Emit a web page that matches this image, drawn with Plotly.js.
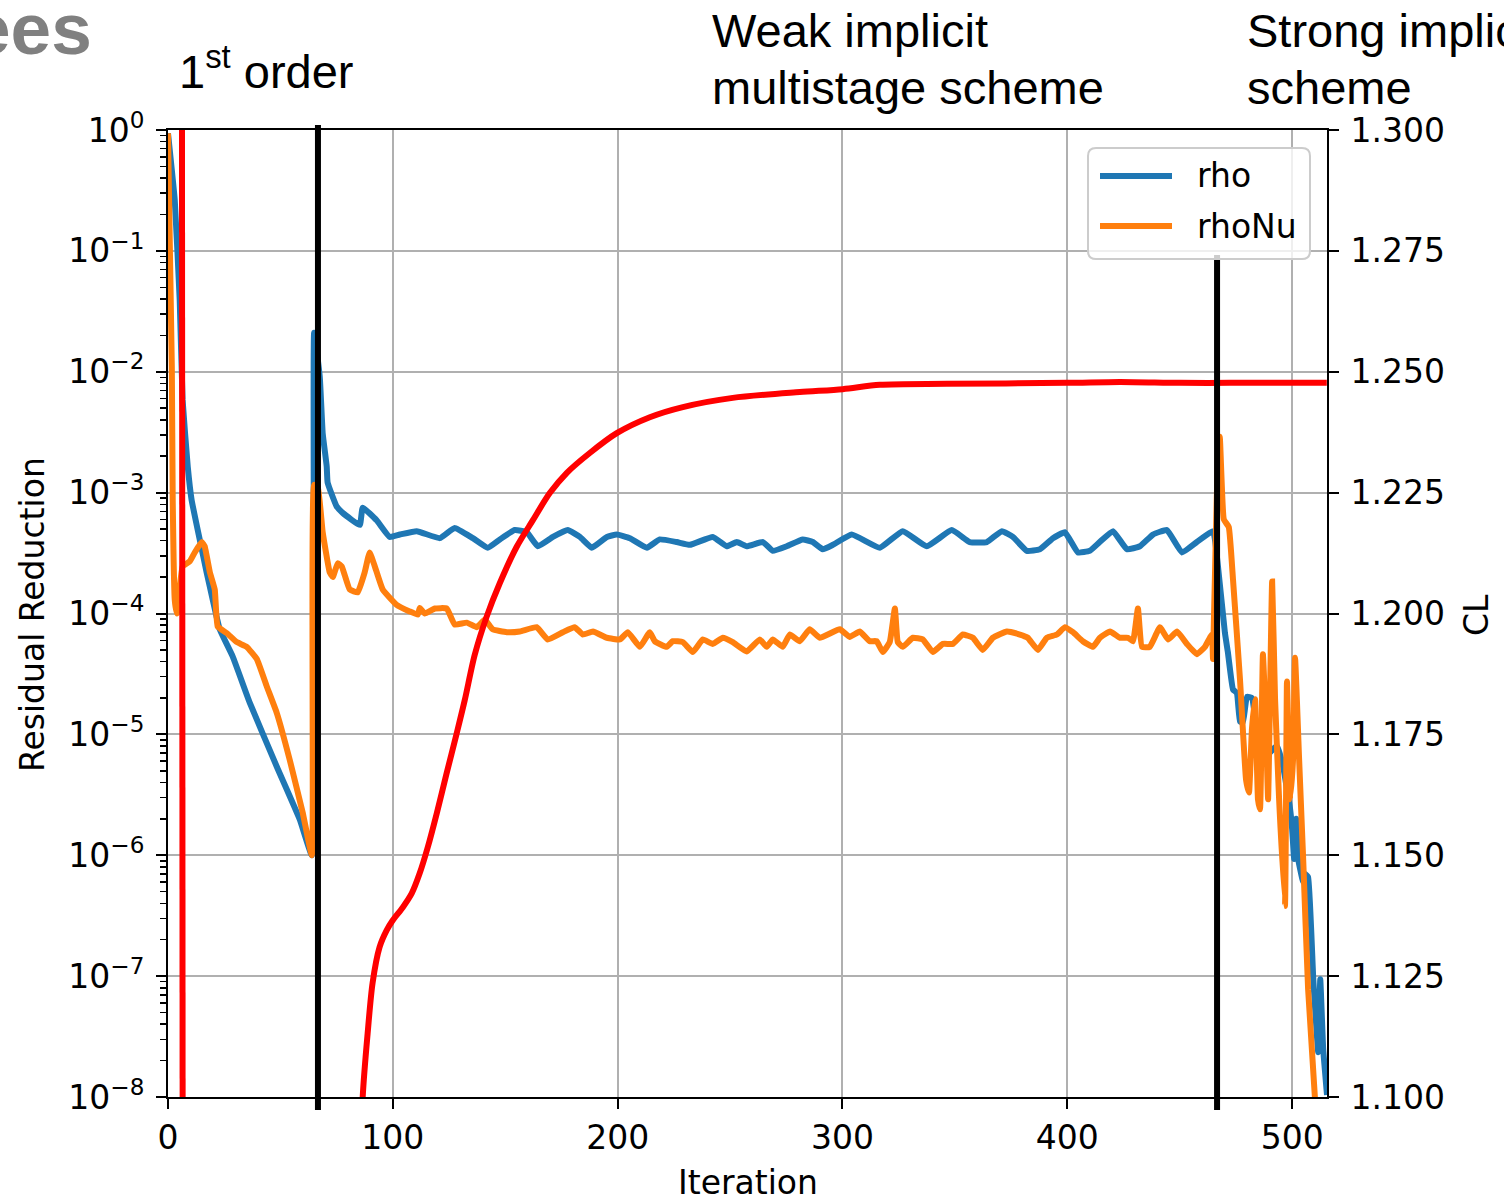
<!DOCTYPE html>
<html>
<head>
<meta charset="utf-8">
<script src="https://cdn.plot.ly/plotly-3.0.1.min.js"></script>
<style>html,body{margin:0;padding:0;background:#fff;}#chart{width:1504px;height:1199px;}</style>
</head>
<body>
<div id="chart"></div>
<script>
// ---------- data ----------
const iterRho = [0,3.0,5.2,6.5,8.8,10.5,14.1,17.2,19.9,23.0,28.8,36.3,48.4,58.6,64.0,65.0,67.5,68.8,70.6,71.0,75.0,77.7,85.3,86.6,92.8,98.6,103.1,110.6,120.9,127.5,135.6,142.2,147.6,154.2,159.6,164.5,171.2,177.8,183.2,188.5,195.2,199.6,205.4,213.0,218.7,226.3,232.1,242.3,248.5,253.0,257.4,264.6,269.0,275.2,282.3,286.8,291.2,295.7,304.1,316.6,326.8,337.5,348.6,356.6,364.2,370.9,375.8,382.0,387.8,393.6,398.9,404.7,410.0,414.4,420.3,426.5,432.3,438.1,444.3,451.0,457.6,464.8,467.0,470.1,471.4,473.7,475.4,476.8,478.1,479.9,482.1,483.5,485.7,488.0,490.2,493.3,496.0,499.1,500.0,500.9,501.8,502.7,504.9,505.8,507.1,509.4,511.6,512.5,513.8,515.5];
const rho = [0.94,0.264,0.0393,0.00585,0.00163,8.7e-4,4.1e-4,2.18e-4,1.3e-4,7.4e-5,4.4e-5,1.84e-5,5.4e-6,1.98e-6,1.0e-6,2.1e-2,9.1e-3,3.1e-3,1.64e-3,1.21e-3,7.7e-4,6.8e-4,5.4e-4,7.5e-4,5.9e-4,4.3e-4,4.5e-4,4.8e-4,4.2e-4,5.1e-4,4.2e-4,3.5e-4,4.1e-4,4.9e-4,4.7e-4,3.6e-4,4.3e-4,4.9e-4,4.3e-4,3.5e-4,4.3e-4,4.5e-4,4.2e-4,3.5e-4,4.1e-4,3.9e-4,3.7e-4,4.3e-4,3.6e-4,3.9e-4,3.6e-4,3.9e-4,3.3e-4,3.6e-4,4.1e-4,3.9e-4,3.4e-4,3.7e-4,4.5e-4,3.5e-4,4.8e-4,3.6e-4,4.9e-4,3.9e-4,3.9e-4,4.8e-4,4.3e-4,3.3e-4,3.4e-4,4.2e-4,4.7e-4,3.2e-4,3.3e-4,3.9e-4,4.8e-4,3.4e-4,3.6e-4,4.5e-4,4.9e-4,3.2e-4,3.9e-4,4.8e-4,2.45e-4,6.9e-5,4.8e-5,2.35e-5,2.2e-5,1.28e-5,1.25e-5,2.05e-5,2.0e-5,1.4e-5,8.0e-6,6.2e-6,7.1e-6,8.0e-6,5.4e-6,2.4e-6,1.64e-6,9.3e-7,2.0e-6,9.3e-7,6.0e-7,7.0e-7,6.6e-7,9.4e-8,2.35e-8,9.4e-8,2.5e-8,1.04e-8];

const iterRhoNu = [0,1.7,2.1,3.0,3.9,6.5,9.7,11.9,15.0,16.3,18.6,20.8,22.1,26.1,30.6,35.0,39.5,43.9,48.4,54.1,59.9,64.0,65.0,66.6,68.8,71.9,73.3,75.5,77.3,80.8,84.4,87.5,89.7,92.0,95.5,101.7,107.5,111.1,112.0,114.2,118.7,124.0,127.5,132.9,137.3,140.9,144.4,150.7,156.5,164.0,168.9,175.6,180.9,184.5,189.0,195.2,201.0,204.5,209.9,214.3,216.5,221.8,224.5,229.0,233.4,237.9,242.3,246.8,251.2,257.4,263.2,266.3,269.0,273.4,276.6,281.0,285.4,289.9,298.8,303.2,307.7,312.1,315.2,317.9,321.0,323.3,324.6,326.8,331.3,335.7,340.2,344.6,349.1,353.5,358.0,362.4,366.9,373.1,378.9,382.4,386.9,390.9,395.4,398.9,402.5,406.9,411.4,414.5,419.0,423.4,427.0,429.2,431.4,433.2,436.7,441.2,444.8,448.8,453.2,457.6,461.2,464.3,464.8,467.0,467.8,469.6,471.8,473.7,476.8,479.5,480.8,482.1,483.5,484.8,485.7,487.0,488.4,489.3,491.1,492.4,494.2,496.8,497.7,499.1,500.4,501.3,503.1,504.9,507.1,510.2];
const rhoNu = [0.94,0.011,8.7e-4,1.3e-4,1.0e-4,2.45e-4,2.7e-4,3.2e-4,3.9e-4,3.6e-4,2.2e-4,1.58e-4,7.8e-5,6.9e-5,5.8e-5,5.3e-5,4.2e-5,2.5e-5,1.5e-5,6.2e-6,2.26e-6,1.0e-6,1.16e-3,1.12e-3,4.7e-4,2.2e-4,2.0e-4,2.6e-4,2.45e-4,1.58e-4,1.5e-4,2.2e-4,3.2e-4,2.45e-4,1.58e-4,1.18e-4,1.04e-4,9.8e-5,1.11e-4,1.0e-4,1.1e-4,1.1e-4,8.1e-5,8.4e-5,7.7e-5,8.9e-5,7.4e-5,7.0e-5,7.1e-5,7.7e-5,6.1e-5,7.0e-5,7.7e-5,6.7e-5,7.1e-5,6.3e-5,6.1e-5,7.0e-5,5.3e-5,7.0e-5,5.9e-5,5.3e-5,5.9e-5,5.8e-5,4.8e-5,6.1e-5,5.6e-5,6.3e-5,5.8e-5,4.85e-5,6.1e-5,5.3e-5,6.1e-5,5.3e-5,6.7e-5,5.9e-5,7.4e-5,6.3e-5,7.4e-5,6.4e-5,7.1e-5,5.9e-5,5.9e-5,4.8e-5,5.8e-5,1.1e-4,5.8e-5,5.3e-5,6.3e-5,6.1e-5,4.8e-5,5.6e-5,5.6e-5,6.7e-5,6.3e-5,5.0e-5,6.3e-5,7.1e-5,6.7e-5,6.3e-5,5.0e-5,6.3e-5,6.7e-5,7.7e-5,7.0e-5,5.9e-5,5.3e-5,6.3e-5,7.1e-5,6.3e-5,6.3e-5,5.9e-5,1.1e-4,5.3e-5,5.3e-5,7.7e-5,6.1e-5,7.1e-5,5.6e-5,4.6e-5,5.3e-5,6.7e-5,4.2e-5,2.26e-3,2.9e-3,6.0e-4,5.2e-4,1.9e-4,2.85e-5,4.2e-6,3.3e-6,1.1e-5,1.95e-5,2.9e-6,2.4e-6,4.6e-5,1.1e-5,2.9e-6,1.84e-4,1.95e-5,2.9e-6,3.8e-7,2.74e-5,2.9e-6,6.2e-6,4.3e-5,6.2e-6,9.3e-7,7.8e-8,9.4e-9];

// CL: the first two points are the early spike (drawn straight), the rest the smooth rise
const iterCL = [6,7,84,86.6,88.8,91.0,94.1,97.3,99.9,104.4,108.4,111.9,115.5,119.5,123.9,128.4,132.0,136.4,141.7,147.6,155.1,162.3,169.8,177.4,187.6,199.6,214.3,229.0,251.2,281.0,300.1,316.6,346.4,399.8,423.4,450.1,472.3,515.4];
const CL = [1.45,0.75,1.06,1.1000,1.1132,1.1236,1.1310,1.1345,1.1365,1.1392,1.1421,1.1462,1.1516,1.1586,1.1669,1.1752,1.1821,1.1914,1.1993,1.2063,1.2138,1.2193,1.2249,1.2291,1.2332,1.2373,1.2406,1.2427,1.2446,1.2458,1.2464,1.2473,1.2475,1.2477,1.2479,1.2477,1.2477,1.2477];

const schemeSwitch = [66.7, 466.6];
const seriesNames = ['rho', 'rhoNu'];
const xTicks = [0, 100, 200, 300, 400, 500];
const yTickVals = [1e-8, 1e-7, 1e-6, 1e-5, 1e-4, 1e-3, 1e-2, 1e-1, 1];
const yTickText = ['10<sup>−8</sup>','10<sup>−7</sup>','10<sup>−6</sup>','10<sup>−5</sup>','10<sup>−4</sup>','10<sup>−3</sup>','10<sup>−2</sup>','10<sup>−1</sup>','10<sup>0</sup>'];
const clTicks = [1.1, 1.125, 1.15, 1.175, 1.2, 1.225, 1.25, 1.275, 1.3];

// ---------- layout helpers (pixel -> paper) ----------
const W = 1504, H = 1199;
const M = {l: 168, r: 177, t: 130, b: 102};
const PW = W - M.l - M.r, PH = H - M.t - M.b;
const px = x => (x - M.l) / PW;
const py = y => (H - M.b - y) / PH;

const minorVals = [];
for (let e = -8; e < 0; e++) for (let k = 2; k <= 9; k++) minorVals.push(k * Math.pow(10, e));

const BLUE = '#1f77b4', ORANGE = '#ff7f0e', RED = '#ff0000';
const traces = [
  {x: iterRho, y: rho, name: seriesNames[0], mode: 'lines', line: {color: BLUE, width: 6, shape: 'spline', smoothing: 0.35}, yaxis: 'y'},
  {x: iterRhoNu, y: rhoNu, name: seriesNames[1], mode: 'lines', line: {color: ORANGE, width: 6, shape: 'spline', smoothing: 0.35}, yaxis: 'y'},
  {x: iterCL.slice(0, 2), y: CL.slice(0, 2), name: 'CL', mode: 'lines', line: {color: RED, width: 6}, yaxis: 'y2'},
  {x: iterCL.slice(2), y: CL.slice(2), name: 'CL', mode: 'lines', line: {color: RED, width: 6, shape: 'spline', smoothing: 0.8}, yaxis: 'y2'}
];

function roundRect(x0, y0, x1, y1, r) {
  const P = (x, y) => px(x) + ',' + py(y);
  return 'M' + P(x0 + r, y0) + ' L' + P(x1 - r, y0) + ' Q' + P(x1, y0) + ' ' + P(x1, y0 + r) +
    ' L' + P(x1, y1 - r) + ' Q' + P(x1, y1) + ' ' + P(x1 - r, y1) +
    ' L' + P(x0 + r, y1) + ' Q' + P(x0, y1) + ' ' + P(x0, y1 - r) +
    ' L' + P(x0, y0 + r) + ' Q' + P(x0, y0) + ' ' + P(x0 + r, y0) + ' Z';
}

const shapes = [
  {type: 'line', xref: 'x', yref: 'paper', x0: schemeSwitch[0], x1: schemeSwitch[0], y0: py(1110), y1: py(125), line: {color: '#000', width: 6}},
  {type: 'line', xref: 'x', yref: 'paper', x0: schemeSwitch[1], x1: schemeSwitch[1], y0: py(1110), y1: py(255), line: {color: '#000', width: 6}},
  {type: 'path', xref: 'paper', yref: 'paper', path: roundRect(1088, 148, 1310, 259, 8), fillcolor: 'rgba(255,255,255,0.8)', line: {color: '#cccccc', width: 2}},
  {type: 'line', xref: 'paper', yref: 'paper', x0: px(1100), x1: px(1172), y0: py(176), y1: py(176), line: {color: BLUE, width: 6}},
  {type: 'line', xref: 'paper', yref: 'paper', x0: px(1100), x1: px(1172), y0: py(226), y1: py(226), line: {color: ORANGE, width: 6}}
];

const TF = {family: 'Liberation Sans, Arial, sans-serif', size: 47, color: '#000'};
const AF = {family: 'DejaVu Sans, sans-serif', size: 33, color: '#000'};
const ann = (text, x, y, opts) => Object.assign({text: text, xref: 'paper', yref: 'paper', x: px(x), y: py(y), xanchor: 'left', yanchor: 'middle', showarrow: false, font: TF}, opts || {});

const annotations = [
  ann('ees', -32, 28, {font: {family: 'Liberation Sans, Arial, sans-serif', size: 73, color: '#808080', weight: 'bold'}}),
  ann('1<sup>st</sup> order', 177, 68),
  ann('Weak implicit', 710, 30),
  ann('multistage scheme', 710, 88),
  ann('Strong implicit', 1245, 30),
  ann('scheme', 1245, 88),
  ann('Residual Reduction', 32, 615, {xanchor: 'center', textangle: -90, font: AF}),
  ann('CL', 1476, 615, {xanchor: 'center', textangle: -90, font: AF}),
  ann('Iteration', 748, 1182, {xanchor: 'center', font: AF}),
  ann(seriesNames[0], 1195, 176, {font: AF}),
  ann(seriesNames[1], 1195, 226, {font: AF})
];

const axisCommon = {
  showline: true, linecolor: '#000', linewidth: 2,
  ticks: 'outside', ticklen: 10, tickwidth: 2, tickcolor: '#000',
  tickfont: AF, zeroline: false
};

const layout = {
  width: W, height: H,
  margin: M,
  paper_bgcolor: '#fff', plot_bgcolor: '#fff',
  showlegend: false,
  font: AF,
  xaxis: Object.assign({}, axisCommon, {
    range: [0, 515.5], tickvals: xTicks, ticktext: xTicks.map(String), mirror: true,
    showgrid: true, gridcolor: '#b0b0b0', gridwidth: 2
  }),
  yaxis: Object.assign({}, axisCommon, {
    type: 'log', range: [-8, 0], tickmode: 'array', tickvals: yTickVals, ticktext: yTickText, mirror: true,
    showgrid: true, gridcolor: '#b0b0b0', gridwidth: 2, ticklabelstandoff: 5,
    minor: {tickmode: 'array', tickvals: minorVals, ticks: 'outside', ticklen: 6, tickwidth: 1.5, tickcolor: '#000', showgrid: false}
  }),
  yaxis2: Object.assign({}, axisCommon, {
    overlaying: 'y', side: 'right', range: [1.1, 1.3], tickmode: 'array', tickvals: clTicks,
    ticktext: clTicks.map(v => v.toFixed(3)), showgrid: false, ticklabelstandoff: 5
  }),
  shapes: shapes,
  annotations: annotations
};

Plotly.newPlot('chart', traces, layout, {displayModeBar: false, staticPlot: true});
</script>
</body>
</html>
